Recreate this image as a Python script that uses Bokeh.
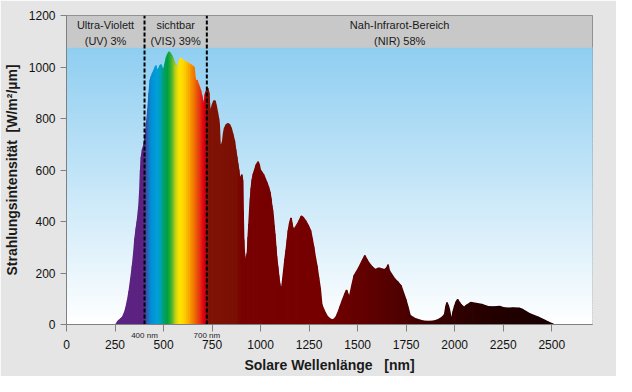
import numpy as np
from bokeh.plotting import figure
from bokeh.models import FixedTicker, Range1d, LinearAxis
from bokeh.core.properties import value
from bokeh.embed import file_html
from bokeh.resources import INLINE

# ---- data ----
wavelength = [255, 265, 280, 290, 300, 307, 315, 323, 332, 340, 347, 353, 360, 365, 373, 378, 382, 386, 392, 398,
              403, 407, 414, 420, 426, 432, 437, 443, 450, 455, 460, 465, 470, 476, 482, 487, 493, 500, 507, 515,
              521, 528, 535, 543, 550, 556, 562, 567, 573, 580, 585, 590, 597, 604, 610, 620, 630, 640, 648, 657,
              662, 666, 672, 678, 684, 690, 696, 702, 707, 711, 715, 720, 727, 733, 738, 742, 747, 753, 759, 765,
              771, 777, 783, 787, 791, 795, 800, 805, 810, 815, 823, 832, 840, 848, 856, 865, 871, 877, 882, 887,
              891, 895, 900, 903, 907, 910, 913, 915, 920, 923, 928, 932, 936, 940, 944, 948, 952, 957, 963, 970,
              978, 987, 993, 998, 1006, 1015, 1024, 1032, 1040, 1048, 1053, 1057, 1061, 1065, 1069, 1073, 1078, 1082, 1088, 1093,
              1098, 1103, 1110, 1115, 1120, 1126, 1132, 1138, 1143, 1150, 1157, 1161, 1165, 1173, 1180, 1190, 1200, 1210, 1220, 1232,
              1245, 1257, 1265, 1273, 1281, 1290, 1298, 1307, 1315, 1324, 1332, 1345, 1357, 1370, 1377, 1388, 1398, 1410, 1423, 1435,
              1443, 1450, 1457, 1470, 1482, 1495, 1507, 1522, 1537, 1547, 1557, 1573, 1590, 1605, 1615, 1628, 1640, 1650, 1657, 1662,
              1668, 1690, 1707, 1723, 1735, 1748, 1760, 1770, 1785, 1798, 1820, 1840, 1865, 1890, 1910, 1923, 1938, 1948, 1955, 1960,
              1966, 1972, 1980, 1986, 1992, 2000, 2008, 2015, 2025, 2032, 2040, 2048, 2058, 2065, 2082, 2110, 2140, 2160, 2173, 2200,
              2232, 2250, 2273, 2300, 2332, 2350, 2365, 2385, 2407, 2430, 2457, 2480, 2500, 2510]
intensity = [0, 12, 22, 30, 48, 66, 95, 130, 180, 228, 280, 335, 375, 402, 458, 520, 600, 650, 680, 694,
             715, 738, 790, 838, 900, 950, 962, 974, 985, 995, 1005, 990, 987, 995, 1005, 1009, 995, 988, 1010, 1036,
             1048, 1058, 1052, 1042, 1030, 1016, 1008, 1000, 999, 1018, 1030, 1034, 1028, 1024, 1021, 1018, 1013, 1009, 1004, 999,
             960, 937, 950, 935, 924, 910, 890, 870, 850, 857, 894, 905, 918, 900, 840, 815, 840, 855, 868, 868,
             850, 825, 800, 775, 700, 682, 700, 713, 745, 763, 775, 780, 775, 763, 740, 713, 680, 651, 625, 601,
             575, 563, 575, 582, 560, 439, 330, 290, 255, 246, 265, 278, 340, 390, 445, 489, 530, 563, 585, 601,
             620, 632, 620, 601, 592, 582, 566, 551, 535, 514, 490, 464, 445, 420, 385, 352, 305, 265, 225, 190,
             160, 141, 148, 180, 215, 255, 290, 330, 365, 395, 414, 395, 377, 368, 378, 390, 405, 421, 415, 402,
             385, 365, 335, 302, 265, 228, 185, 141, 78, 60, 47, 30, 22, 18, 19, 28, 45, 70, 97, 120,
             134, 118, 103, 150, 190, 206, 222, 245, 268, 253, 240, 225, 213, 218, 218, 215, 213, 220, 232, 212,
             203, 178, 165, 151, 125, 97, 65, 35, 28, 22, 17, 13, 12, 13, 17, 22, 30, 39, 70, 85,
             75, 60, 30, 25, 50, 72, 88, 97, 85, 78, 72, 66, 73, 76, 85, 82, 78, 72, 69, 68,
             70, 65, 63, 64, 63, 58, 51, 42, 35, 28, 19, 10, 3, 0]

region_edges = [0, 402, 723, 2710]
region_labels = ["Ultra-Violett\n(UV) 3%", "sichtbar\n(VIS) 39%", "Nah-Infrarot-Bereich\n(NIR) 58%"]
marker_labels = ["400 nm", "700 nm"]
x_ticks = [0, 250, 500, 750, 1000, 1250, 1500, 1750, 2000, 2250, 2500]
y_ticks = [0, 200, 400, 600, 800, 1000, 1200]

# ---- style helpers ----
FONT = "Liberation Sans"
GREY = "#808080"
color_stops = [(250, "#5C2382"), (398, "#5C2382"), (410, "#4B3C9C"), (425, "#1E6FC0"), (440, "#0090D4"),
               (470, "#009FDB"), (490, "#00A0B4"), (505, "#00A066"), (525, "#00A040"), (545, "#46B232"),
               (565, "#C2D214"), (585, "#FFE400"), (610, "#FFD200"), (635, "#F8A600"), (660, "#F07600"),
               (685, "#E84012"), (705, "#E00A14"), (719, "#D20010"), (726, "#801406"), (880, "#7A1004"),
               (905, "#780202"), (1300, "#760000"), (1600, "#5C0000"), (1900, "#3A0202"), (2200, "#230000"),
               (2520, "#180000")]
stop_x = np.array([s[0] for s in color_stops], dtype=float)
stop_rgb = np.array([[int(s[1][i:i + 2], 16) for i in (1, 3, 5)] for s in color_stops], dtype=float)


def color_at(nm):
    r, g, b = (np.interp(nm, stop_x, stop_rgb[:, k]) for k in range(3))
    return "#%02x%02x%02x" % (int(round(r)), int(round(g)), int(round(b)))


band_bottom = 1075
x_end = region_edges[-1]

p = figure(width=616, height=376, output_backend="svg", toolbar_location=None,
           x_range=Range1d(0, x_end), y_range=Range1d(0, 1200), x_axis_location=None,
           min_border_left=64, min_border_right=24, min_border_top=15, min_border_bottom=52)
p.background_fill_color = "white"
p.border_fill_color = "#E5E5E5"
p.outline_line_color = GREY
p.grid.visible = False

# sky gradient
n_sky = 110
edges = np.linspace(0, band_bottom, n_sky + 1)
top_rgb = np.array([143, 206, 241])
sky_colors = []
for i in range(n_sky):
    t = (edges[i] + edges[i + 1]) / 2 / band_bottom
    c = 255 + (top_rgb - 255) * t
    sky_colors.append("#%02x%02x%02x" % tuple(int(round(v)) for v in c))
p.quad(left=0, right=x_end, bottom=edges[:-1], top=edges[1:], fill_color=sky_colors,
       line_color=sky_colors, line_width=1.2)

# grey header band
p.quad(left=0, right=x_end, bottom=band_bottom, top=1200, fill_color="#C8C8C8", line_color=None)

# spectrum as coloured segments
xs, ys, cols = [], [], []
for i in range(len(wavelength) - 1):
    w0, w1 = wavelength[i], wavelength[i + 1]
    xs.append([w0, w0, w1, w1])
    ys.append([0, intensity[i], intensity[i + 1], 0])
    cols.append(color_at((w0 + w1) / 2))
p.patches(xs, ys, fill_color=cols, line_color=cols, line_width=1.5)

# region boundaries
bounds = region_edges[1:3]
p.segment(x0=bounds, y0=0, x1=bounds, y1=1200, line_color="black", line_width=2, line_dash="4 2")

# region labels
centers = [(region_edges[i] + region_edges[i + 1]) / 2 for i in range(3)]
p.text(x=centers, y=[1133] * 3, text=region_labels, text_font=value(FONT), text_font_size="11px",
       text_align="center", text_baseline="middle", text_line_height=1.3, text_color="#1a1a1a")

# inner x axis: axis line, tick marks (as minor ticks) and the small nm labels
ax_in = LinearAxis(ticker=FixedTicker(ticks=bounds, minor_ticks=x_ticks),
                   major_label_overrides={b: t for b, t in zip(bounds, marker_labels)})
ax_in.axis_line_color = GREY
ax_in.major_tick_line_color = None
ax_in.major_tick_out = 0
ax_in.major_tick_in = 0
ax_in.minor_tick_line_color = GREY
ax_in.minor_tick_out = 7
ax_in.minor_tick_in = 0
ax_in.major_label_text_font = FONT
ax_in.major_label_text_font_size = "8px"
ax_in.major_label_text_color = "#222222"
ax_in.major_label_standoff = -1
p.add_layout(ax_in, "below")

# outer x axis: numbers and title
ax_out = LinearAxis(ticker=FixedTicker(ticks=x_ticks))
ax_out.axis_line_color = None
ax_out.major_tick_line_color = None
ax_out.minor_tick_line_color = None
ax_out.major_tick_out = 0
ax_out.major_tick_in = 0
ax_out.major_label_standoff = -3
ax_out.axis_label_standoff = 5
ax_out.axis_label = "Solare Wellenlänge\u00a0\u00a0\u00a0[nm]"
p.add_layout(ax_out, "below")

yax = p.yaxis[0]
yax.ticker = FixedTicker(ticks=y_ticks)
yax.axis_line_color = GREY
yax.major_tick_line_color = GREY
yax.minor_tick_line_color = None
yax.major_tick_in = 0
yax.major_tick_out = 6
yax.major_label_standoff = 5
yax.axis_label_standoff = 6
yax.axis_label = "Strahlungsintensität\u00a0\u00a0[W/m²/µm]"

for ax in (ax_out, yax):
    ax.major_label_text_font = FONT
    ax.major_label_text_font_size = "12px"
    ax.major_label_text_color = "#111111"
    ax.axis_label_text_font = FONT
    ax.axis_label_text_font_size = "14px"
    ax.axis_label_text_font_style = "bold"
    ax.axis_label_text_color = "#1a1a1a"

open("out.html", "w").write(file_html(p, INLINE))
